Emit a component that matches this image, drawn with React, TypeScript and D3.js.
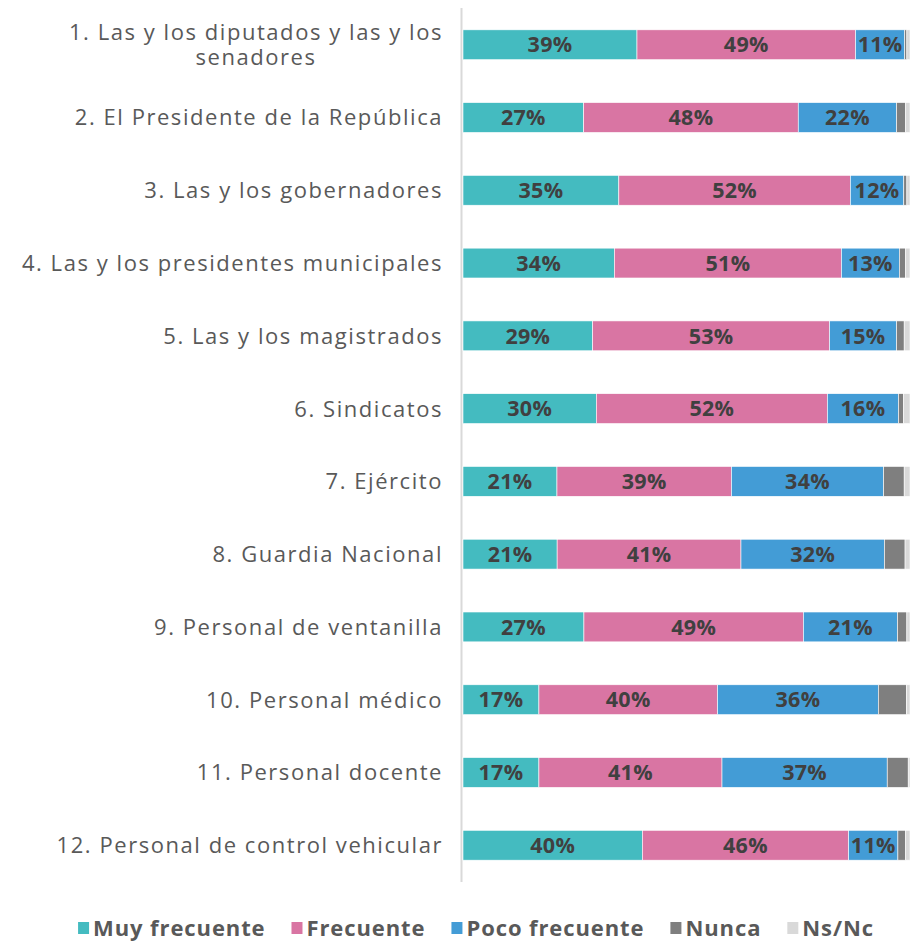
import { useEffect, useRef } from "react";
import * as d3 from "d3";

const categories = [
  ["1. Las y los diputados y las y los", "senadores"],
  ["2. El Presidente de la República"],
  ["3. Las y los gobernadores"],
  ["4. Las y los presidentes municipales"],
  ["5. Las y los magistrados"],
  ["6. Sindicatos"],
  ["7. Ejército"],
  ["8. Guardia Nacional"],
  ["9. Personal de ventanilla"],
  ["10. Personal médico"],
  ["11. Personal docente"],
  ["12. Personal de control vehicular"],
];

const seriesNames = ["Muy frecuente", "Frecuente", "Poco frecuente", "Nunca", "Ns/Nc"];
const colors = ["#44BBC0", "#D975A3", "#439CD6", "#7F7F7F", "#D9D9D9"];

const muyFrecuente = [39, 27, 35, 34, 29, 30, 21, 21, 27, 17, 17, 40];
const frecuente = [49, 48, 52, 51, 53, 52, 39, 41, 49, 40, 41, 46];
const pocoFrecuente = [11, 22, 12, 13, 15, 16, 34, 32, 21, 36, 37, 11];
const nunca = [0.5, 2, 0.7, 1.4, 1.7, 1.1, 4.6, 4.6, 2.1, 6.3, 4.7, 1.7];
const nsnc = [0.7, 1, 0.7, 1, 1.3, 1.5, 1.3, 1.1, 0.7, 0.8, 0.4, 1.0];

const W = 922;
const H = 943;

export default function App() {
  const ref = useRef<SVGSVGElement>(null);

  useEffect(() => {
    document.body.style.margin = "0";
    const svg = d3.select(ref.current);
    svg.selectAll("*").remove();

    const rows = categories.map((c, i) => ({
      key: String(i),
      label: c,
      "Muy frecuente": muyFrecuente[i],
      Frecuente: frecuente[i],
      "Poco frecuente": pocoFrecuente[i],
      Nunca: nunca[i],
      "Ns/Nc": nsnc[i],
      shown: [muyFrecuente[i], frecuente[i], pocoFrecuente[i], null, null],
    }));

    // 100% stacked, each row normalised
    const stacked = d3
      .stack<any>()
      .keys(seriesNames)
      .offset(d3.stackOffsetExpand)(rows);

    const x = d3.scaleLinear().domain([0, 1]).range([463, 910]);
    const y = d3
      .scaleBand()
      .domain(rows.map((r) => r.key))
      .range([8, 882])
      .paddingInner(0.59)
      .paddingOuter(0.3);

    svg
      .append("line")
      .attr("x1", 461.5)
      .attr("x2", 461.5)
      .attr("y1", 8)
      .attr("y2", 882)
      .attr("stroke", "#D9D9D9")
      .attr("stroke-width", 2);

    stacked.forEach((s, si) => {
      const g = svg.append("g");
      g.selectAll("rect")
        .data(s)
        .join("rect")
        .attr("x", (d) => x(d[0]))
        .attr("width", (d) => Math.max(0, x(d[1]) - x(d[0])))
        .attr("y", (d) => y(d.data.key)!)
        .attr("height", y.bandwidth())
        .attr("fill", colors[si])
        .attr("stroke", "#fff")
        .attr("stroke-width", 0.6);

      if (si < 3) {
        g.selectAll("text")
          .data(s)
          .join("text")
          .attr("x", (d) => (x(d[0]) + x(d[1])) / 2)
          .attr("y", (d) => y(d.data.key)! + y.bandwidth() / 2)
          .attr("dy", "0.36em")
          .attr("text-anchor", "middle")
          .attr("font-family", "'Open Sans', sans-serif")
          .attr("font-weight", 700)
          .attr("font-size", 21.5)
          .attr("letter-spacing", 0.3)
          .attr("fill", "#404040")
          .text((d) => `${d.data.shown[si]}%`);
      }
    });

    // category labels, right aligned, wrapped lines centred
    const labels = svg
      .append("g")
      .selectAll("text")
      .data(rows)
      .join("text")
      .attr("text-anchor", "middle")
      .attr("font-family", "'Open Sans', sans-serif")
      .attr("font-weight", 400)
      .attr("font-size", 22)
      .attr("letter-spacing", 1.55)
      .attr("fill", "#595959");

    labels.each(function (d) {
      const t = d3.select(this);
      const cy = y(d.key)! + y.bandwidth() / 2;
      const n = d.label.length;
      d.label.forEach((line, li) => {
        t.append("tspan")
          .attr("y", cy + (li - (n - 1) / 2) * 25)
          .attr("dy", "0.36em")
          .text(line);
      });
      const widths = (t.selectAll("tspan").nodes() as SVGTSpanElement[]).map((n) =>
        n.getComputedTextLength()
      );
      const maxW = d3.max(widths) || 0;
      t.selectAll("tspan").attr("x", 443 - maxW / 2);
    });

    // legend
    const legend = svg.append("g");
    let lx = 0;
    seriesNames.forEach((name, i) => {
      const item = legend.append("g").attr("transform", `translate(${lx},0)`);
      item
        .append("rect")
        .attr("x", 0)
        .attr("y", -6)
        .attr("width", 11)
        .attr("height", 12)
        .attr("fill", colors[i]);
      const txt = item
        .append("text")
        .attr("x", 15)
        .attr("y", 0)
        .attr("dy", "0.36em")
        .attr("font-family", "'Open Sans', sans-serif")
        .attr("font-weight", 700)
        .attr("font-size", 22)
        .attr("letter-spacing", 0.9)
        .attr("fill", "#595959")
        .text(name);
      lx += 15 + (txt.node() as SVGTextElement).getComputedTextLength() + 26;
    });
    const total = lx - 26;
    legend.attr("transform", `translate(${476 - total / 2},928)`);
  }, []);

  return <svg ref={ref} width={W} height={H} style={{ display: "block", background: "#fff" }} />;
}
